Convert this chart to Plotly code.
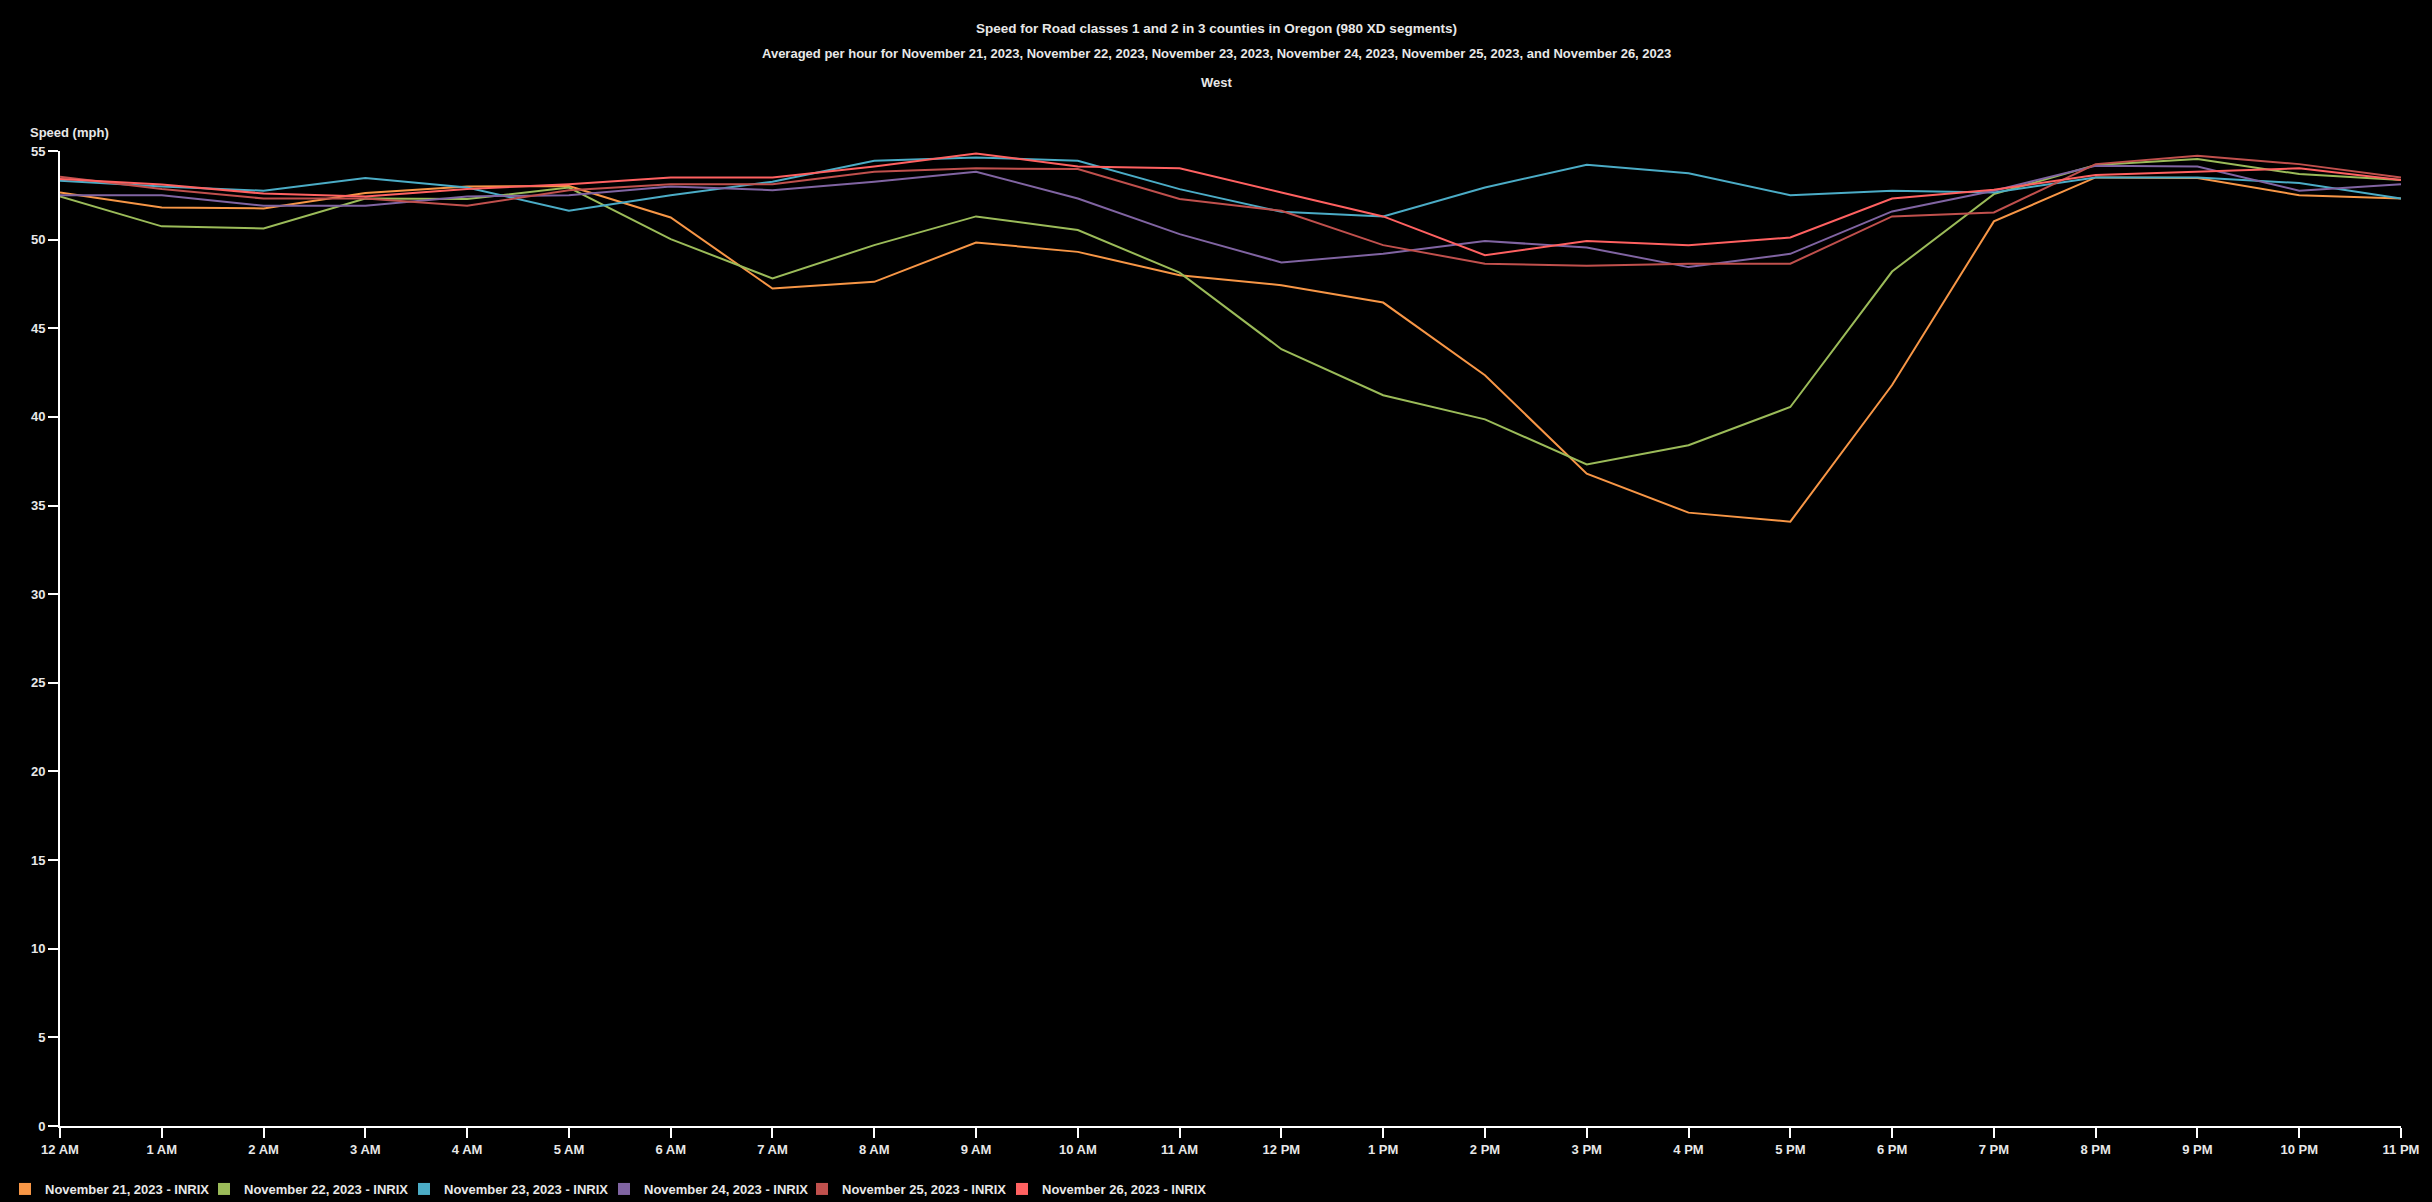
import plotly.graph_objects as go

hours = ["12 AM", "1 AM", "2 AM", "3 AM", "4 AM", "5 AM", "6 AM", "7 AM", "8 AM", "9 AM", "10 AM", "11 AM",
         "12 PM", "1 PM", "2 PM", "3 PM", "4 PM", "5 PM", "6 PM", "7 PM", "8 PM", "9 PM", "10 PM", "11 PM"]

nov21 = [52.66, 51.81, 51.76, 52.63, 53.00, 53.03, 51.25, 47.24, 47.62, 49.84, 49.31, 47.99,
         47.43, 46.45, 42.35, 36.80, 34.60, 34.09, 41.80, 51.03, 53.51, 53.47, 52.51, 52.32]
nov22 = [52.44, 50.75, 50.63, 52.32, 52.29, 52.94, 50.03, 47.81, 49.69, 51.31, 50.54, 48.14,
         43.82, 41.22, 39.86, 37.32, 38.40, 40.56, 48.20, 52.57, 54.21, 54.55, 53.70, 53.36]
nov23 = [53.32, 53.00, 52.76, 53.47, 52.94, 51.63, 52.51, 53.27, 54.45, 54.64, 54.45, 52.85,
         51.57, 51.31, 52.94, 54.23, 53.74, 52.51, 52.76, 52.66, 53.51, 53.51, 53.19, 52.32]
nov24 = [52.51, 52.51, 51.91, 51.91, 52.44, 52.51, 53.00, 52.79, 53.27, 53.83, 52.32, 50.31,
         48.71, 49.20, 49.92, 49.56, 48.45, 49.20, 51.59, 52.76, 54.17, 54.13, 52.76, 53.13]
nov25 = [53.55, 52.85, 52.32, 52.32, 51.91, 52.79, 53.13, 53.13, 53.83, 54.02, 53.98, 52.29,
         51.63, 49.69, 48.64, 48.53, 48.64, 48.64, 51.31, 51.53, 54.26, 54.73, 54.26, 53.51]
nov26 = [53.42, 53.11, 52.60, 52.44, 52.85, 53.13, 53.51, 53.51, 54.13, 54.86, 54.13, 54.02,
         52.66, 51.31, 49.12, 49.92, 49.69, 50.12, 52.32, 52.82, 53.64, 53.83, 54.02, 53.36]

series_names = ["November 21, 2023 - INRIX", "November 22, 2023 - INRIX", "November 23, 2023 - INRIX",
                "November 24, 2023 - INRIX", "November 25, 2023 - INRIX", "November 26, 2023 - INRIX"]
series_values = [nov21, nov22, nov23, nov24, nov25, nov26]
colors = ["#F79646", "#9BBB59", "#4BACC6", "#8064A2", "#C0504D", "#FF6161"]

y_ticks = [0, 5, 10, 15, 20, 25, 30, 35, 40, 45, 50, 55]

FONT = "Liberation Sans, Arial, sans-serif"
TXT = "#e8e8e8"

x_idx = list(range(len(hours)))

fig = go.Figure()
for name, vals, col in zip(series_names, series_values, colors):
    fig.add_trace(go.Scatter(x=x_idx, y=vals, mode="lines", name=name,
                             line=dict(color=col, width=2), showlegend=False))

legend_ids = ["legend", "legend2", "legend3", "legend4", "legend5", "legend6"]
for name, col, lid in zip(series_names, colors, legend_ids):
    fig.add_trace(go.Scatter(x=[None], y=[None], mode="markers", name=name, legend=lid,
                             marker=dict(color=col, symbol="square", size=12), showlegend=True))

W, H = 2432, 1202
L, T = 60, 151
R = W - 2401
B = H - 1126
pw, ph = W - L - R, H - T - B

def px(x):  # page x -> paper
    return (x - L) / pw

def py(y):  # page y -> paper
    return (H - B - y) / ph

legend_left = [5, 204, 404, 604, 802, 1002]
legend_layouts = {}
for lid, lx in zip(legend_ids, legend_left):
    legend_layouts[lid] = dict(orientation="h", x=px(lx), xanchor="left", y=py(1189), yanchor="middle",
                               font=dict(family=FONT, size=13, color=TXT, weight="bold"),
                               bgcolor="rgba(0,0,0,0)", itemclick=False, itemdoubleclick=False)

fig.update_layout(
    width=W, height=H,
    paper_bgcolor="black", plot_bgcolor="black",
    margin=dict(l=L, r=R, t=T, b=B, autoexpand=False),
    font=dict(family=FONT, color=TXT, size=13),
    showlegend=True,
    xaxis=dict(range=[0, 23], tickmode="array", tickvals=x_idx, ticktext=hours,
               showgrid=False, zeroline=False, showline=True, linecolor="white", linewidth=2,
               ticks="outside", ticklen=10, tickwidth=2, tickcolor="white",
               tickfont=dict(family=FONT, size=13, color=TXT, weight="bold")),
    yaxis=dict(range=[0, 55], tickmode="array", tickvals=y_ticks,
               showgrid=False, zeroline=False, showline=True, linecolor="white", linewidth=2,
               ticks="outside", ticklen=10, tickwidth=2, tickcolor="white",
               tickfont=dict(family=FONT, size=13, color=TXT, weight="bold")),
    annotations=[
        dict(text="Speed for Road classes 1 and 2 in 3 counties in Oregon (980 XD segments)",
             xref="paper", yref="paper", x=px(1216), y=py(29), xanchor="center", yanchor="middle",
             showarrow=False, font=dict(family=FONT, size=13.5, color=TXT, weight="bold")),
        dict(text="Averaged per hour for November 21, 2023, November 22, 2023, November 23, 2023, "
                  "November 24, 2023, November 25, 2023, and November 26, 2023",
             xref="paper", yref="paper", x=px(1216), y=py(53), xanchor="center", yanchor="middle",
             showarrow=False, font=dict(family=FONT, size=13, color=TXT, weight="bold")),
        dict(text="West",
             xref="paper", yref="paper", x=px(1216), y=py(83), xanchor="center", yanchor="middle",
             showarrow=False, font=dict(family=FONT, size=13, color=TXT, weight="bold")),
        dict(text="Speed (mph)",
             xref="paper", yref="paper", x=px(28), y=py(133), xanchor="left", yanchor="middle",
             showarrow=False, font=dict(family=FONT, size=13, color=TXT, weight="bold")),
    ],
    **legend_layouts,
)

fig.write_html(
    "out.html",
    config={"displayModeBar": False},
    post_script="document.documentElement.style.margin='0';document.body.style.margin='0';"
                "document.documentElement.style.overflow='hidden';document.body.style.overflow='hidden';"
                "document.body.style.background='black';",
)
